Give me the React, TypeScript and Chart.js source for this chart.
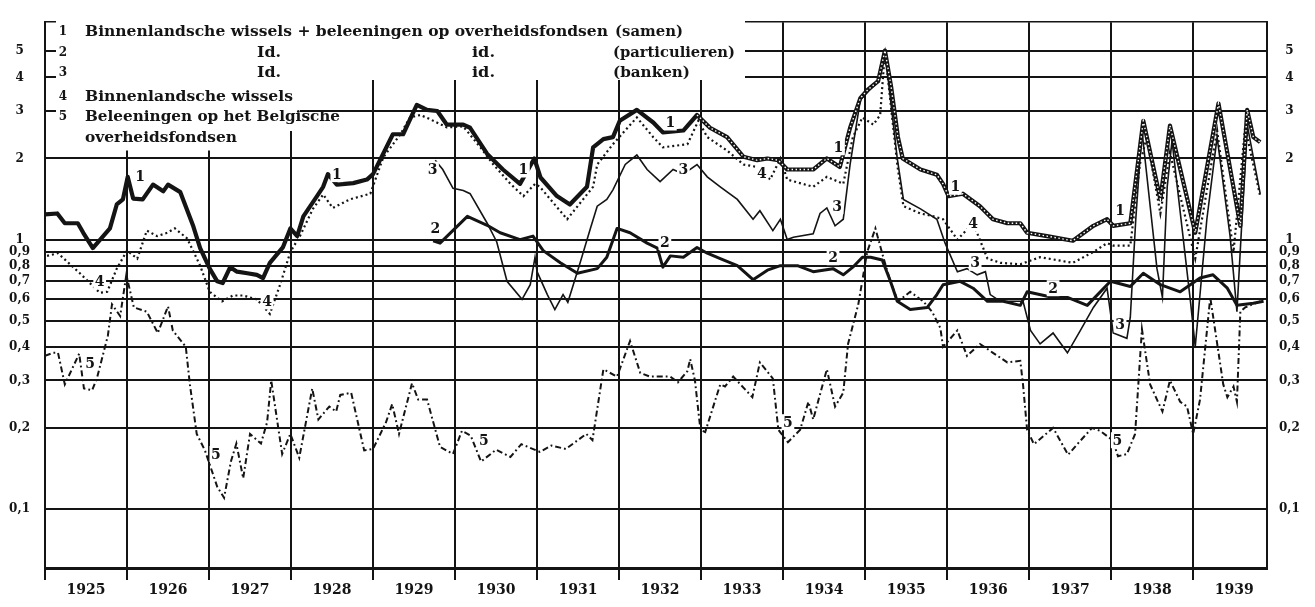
import React, { useEffect, useRef } from "react";
import { Chart, registerables } from "chart.js";

Chart.register(...registerables);

const W = 1315;
const H = 607;
const INK = "#141414";
const SERIF = '"DejaVu Serif", "Liberation Serif", serif';

// x = months since start of 1925, y = value (log scale)
const years = [1925, 1926, 1927, 1928, 1929, 1930, 1931, 1932, 1933, 1934, 1935, 1936, 1937, 1938, 1939];
const yTicks = [0.1, 0.2, 0.3, 0.4, 0.5, 0.6, 0.7, 0.8, 0.9, 1, 2, 3, 4, 5];

// 1: Binnenlandsche wissels + beleeningen (samen)
const seriesSamen: [number, number][] = [
  [0, 1.24], [1.8, 1.25], [2.9, 1.15], [4.8, 1.15], [5.6, 1.06], [7.0, 0.93], [9.5, 1.1], [10.5, 1.35], [11.4, 1.41], [12.1, 1.71],
  [12.9, 1.42], [14.3, 1.41], [15.8, 1.6], [17.3, 1.51], [18.0, 1.6], [19.8, 1.5], [21.7, 1.12], [22.7, 0.93], [24.1, 0.78], [25.2, 0.7],
  [26.0, 0.69], [27.1, 0.79], [28.1, 0.76], [29.6, 0.75], [31.0, 0.74], [31.9, 0.72], [32.9, 0.82], [34.8, 0.935], [35.9, 1.1], [36.9, 1.03],
  [37.8, 1.22], [39.8, 1.45], [40.7, 1.57], [41.4, 1.75], [42.7, 1.6], [45.1, 1.62], [47.1, 1.67], [48.0, 1.75], [50.9, 2.46], [52.4, 2.46],
  [54.4, 3.16], [55.9, 3.03], [57.4, 3.0], [58.8, 2.67], [61.2, 2.67], [62.2, 2.6], [64.7, 2.08], [67.0, 1.82], [69.5, 1.61], [71.6, 2.0],
  [72.5, 1.7], [74.9, 1.45], [76.8, 1.35], [79.3, 1.57], [80.2, 2.2], [81.7, 2.36], [83.1, 2.4], [84.1, 2.76], [86.6, 3.03], [89.0, 2.72],
  [90.4, 2.5], [93.4, 2.54], [95.4, 2.9], [97.3, 2.6], [99.8, 2.4], [102.2, 2.03], [104.2, 1.97], [105.7, 2.0], [107.3, 1.97], [108.6, 1.82],
  [112.4, 1.82], [114.4, 2.0], [116.3, 1.86], [117.8, 2.6], [119.3, 3.35], [120.4, 3.6], [121.9, 3.87], [122.9, 5.03], [123.8, 3.7], [124.8, 2.4],
  [125.5, 2.0], [126.2, 1.95], [128.1, 1.82], [130.5, 1.74], [131.4, 1.61], [132.2, 1.45], [134.3, 1.48], [136.8, 1.33], [138.7, 1.19], [140.8, 1.15],
  [142.7, 1.15], [143.7, 1.06], [146.6, 1.03], [150.4, 0.99], [153.4, 1.125], [155.4, 1.19], [156.3, 1.125], [158.8, 1.15], [160.7, 2.76], [163.2, 1.41],
  [164.6, 2.65], [168.3, 1.06], [171.7, 3.2], [174.9, 1.125], [175.9, 3.03], [176.8, 2.4], [177.8, 2.3],
];

// 2: id. (particulieren)
const seriesParticulieren: [number, number][] = [
  [56.8, 0.99], [57.8, 0.97], [61.8, 1.22], [64.7, 1.13], [66.6, 1.06], [69.5, 1.0], [71.4, 1.03], [72.9, 0.91], [75.4, 0.82], [77.9, 0.75],
  [80.8, 0.78], [82.2, 0.86], [83.7, 1.1], [85.6, 1.06], [88.1, 0.97], [89.6, 0.93], [90.4, 0.79], [91.5, 0.87], [93.4, 0.86], [95.4, 0.935],
  [96.9, 0.89], [98.8, 0.85], [101.3, 0.8], [103.6, 0.71], [105.7, 0.77], [107.6, 0.8], [110.1, 0.8], [112.4, 0.76], [115.3, 0.78], [116.8, 0.74],
  [118.2, 0.79], [119.6, 0.86], [120.8, 0.86], [122.5, 0.84], [123.7, 0.7], [124.7, 0.59], [126.6, 0.55], [129.1, 0.56], [130.5, 0.625], [131.4, 0.68],
  [133.9, 0.7], [135.8, 0.66], [137.9, 0.59], [140.2, 0.59], [142.7, 0.57], [143.7, 0.64], [147.5, 0.61], [149.6, 0.61], [152.5, 0.57], [155.9, 0.7],
  [158.8, 0.67], [160.7, 0.75], [163.2, 0.68], [166.1, 0.64], [169.0, 0.72], [170.9, 0.74], [173.0, 0.66], [174.4, 0.57], [176.8, 0.58], [178.3, 0.59],
];

// 3: id. (banken)
const seriesBanken: [number, number][] = [
  [57.1, 1.97], [58.2, 1.82], [59.7, 1.55], [61.2, 1.52], [62.2, 1.48], [64.7, 1.15], [66.1, 0.98], [67.6, 0.7], [69.8, 0.6], [71.0, 0.68],
  [71.7, 0.86], [72.0, 0.76], [73.5, 0.625], [74.6, 0.55], [75.8, 0.625], [76.5, 0.585], [77.3, 0.68], [78.3, 0.82], [79.8, 1.1], [80.8, 1.33],
  [82.2, 1.41], [83.1, 1.53], [84.9, 1.9], [86.6, 2.06], [88.1, 1.82], [90.0, 1.64], [91.9, 1.82], [93.4, 1.75], [95.4, 1.9], [96.9, 1.71],
  [98.8, 1.57], [101.3, 1.41], [103.6, 1.19], [104.6, 1.28], [106.5, 1.08], [107.6, 1.19], [108.6, 1.0], [109.5, 1.02], [112.4, 1.05], [113.4, 1.25],
  [114.4, 1.31], [115.6, 1.125], [116.8, 1.19], [117.8, 1.9], [119.3, 3.3], [120.7, 3.6], [121.9, 3.87], [122.9, 5.0], [124.7, 2.0], [125.6, 1.41],
  [128.1, 1.3], [130.5, 1.19], [131.7, 0.97], [133.5, 0.76], [134.9, 0.78], [136.4, 0.74], [137.6, 0.76], [138.3, 0.625], [139.8, 0.59], [143.1, 0.59],
  [144.2, 0.46], [145.6, 0.41], [147.5, 0.45], [149.6, 0.38], [151.5, 0.46], [153.4, 0.56], [155.4, 0.66], [156.3, 0.45], [158.3, 0.43], [158.8, 0.515],
  [159.6, 1.19], [160.5, 2.54], [162.7, 0.78], [163.5, 0.61], [164.2, 1.57], [164.9, 2.33], [167.6, 0.59], [168.3, 0.4], [170.0, 1.19], [171.5, 2.4],
  [173.4, 1.03], [174.4, 0.54], [175.9, 2.67], [177.8, 1.48],
];

// 4: Binnenlandsche wissels
const seriesWissels: [number, number][] = [
  [0.3, 0.87], [1.9, 0.89], [5.1, 0.75], [8.0, 0.635], [9.1, 0.64], [10.5, 0.78], [12.0, 0.91], [13.5, 0.85], [14.9, 1.08], [16.4, 1.03],
  [17.9, 1.06], [19.0, 1.1], [20.8, 1.01], [22.7, 0.8], [24.1, 0.64], [25.9, 0.59], [27.5, 0.62], [29.0, 0.62], [31.0, 0.6], [32.9, 0.53],
  [34.4, 0.68], [35.9, 0.9], [37.3, 1.03], [39.2, 1.3], [40.7, 1.47], [42.1, 1.31], [44.6, 1.41], [47.6, 1.48], [49.5, 2.02], [52.0, 2.46],
  [53.4, 2.84], [54.9, 2.9], [56.3, 2.8], [58.8, 2.61], [61.2, 2.63], [63.7, 2.2], [65.6, 1.9], [68.1, 1.61], [70.0, 1.45], [71.7, 1.61],
  [72.4, 1.57], [76.4, 1.19], [80.2, 1.57], [80.8, 1.9], [83.1, 2.26], [86.6, 2.84], [89.0, 2.4], [90.4, 2.2], [94.0, 2.26], [95.6, 2.76],
  [96.9, 2.4], [99.8, 2.14], [102.2, 1.9], [104.2, 1.86], [106.1, 1.67], [107.6, 2.0], [108.6, 1.67], [112.4, 1.57], [114.4, 1.71], [116.8, 1.61],
  [118.2, 2.4], [119.6, 2.84], [121.2, 2.67], [122.2, 2.9], [122.9, 5.0], [124.7, 1.9], [125.6, 1.33], [128.1, 1.25], [130.0, 1.22], [131.4, 1.19],
  [133.5, 1.0], [135.8, 1.15], [137.9, 0.85], [139.8, 0.82], [142.7, 0.81], [145.6, 0.86], [150.4, 0.82], [153.4, 0.9], [155.4, 0.97], [156.3, 0.95],
  [158.8, 0.95], [160.2, 1.9], [161.2, 2.4], [163.2, 1.25], [164.6, 2.1], [168.3, 0.85], [171.5, 2.54], [173.9, 0.9], [175.6, 2.61], [177.8, 1.45],
];

// 5: Beleeningen op het Belgische overheidsfondsen
const seriesFondsen: [number, number][] = [
  [0, 0.37], [1.2, 0.38], [1.9, 0.38], [2.9, 0.29], [5.0, 0.377], [5.7, 0.28], [6.9, 0.276], [7.6, 0.306], [9.2, 0.44], [9.8, 0.575],
  [11.0, 0.52], [11.9, 0.74], [13.0, 0.56], [14.9, 0.54], [16.5, 0.45], [18.0, 0.565], [18.7, 0.46], [20.6, 0.4], [21.2, 0.29], [22.2, 0.19],
  [23.4, 0.165], [25.2, 0.121], [26.2, 0.11], [27.2, 0.15], [28.0, 0.175], [29.0, 0.13], [30.0, 0.19], [31.6, 0.175], [32.5, 0.21], [33.1, 0.3],
  [34.7, 0.16], [35.9, 0.19], [37.2, 0.155], [39.1, 0.28], [40.0, 0.215], [41.6, 0.24], [42.6, 0.23], [43.2, 0.265], [44.8, 0.27], [46.7, 0.165],
  [48.0, 0.167], [49.9, 0.21], [50.8, 0.245], [51.8, 0.19], [53.7, 0.293], [54.6, 0.255], [55.9, 0.255], [57.8, 0.17], [59.7, 0.16], [61.0, 0.195],
  [62.3, 0.187], [63.8, 0.15], [66.0, 0.166], [68.1, 0.156], [69.7, 0.174], [72.4, 0.163], [74.1, 0.172], [76.2, 0.167], [79.2, 0.19], [80.1, 0.18],
  [81.7, 0.33], [83.7, 0.31], [85.6, 0.42], [87.1, 0.32], [88.5, 0.31], [91.5, 0.31], [92.6, 0.295], [94.0, 0.325], [94.4, 0.36], [95.1, 0.3],
  [95.9, 0.197], [96.6, 0.193], [98.8, 0.29], [99.5, 0.285], [100.7, 0.31], [103.5, 0.26], [104.6, 0.35], [106.5, 0.305], [107.3, 0.197], [108.7, 0.177],
  [110.5, 0.197], [111.7, 0.25], [112.4, 0.215], [114.4, 0.33], [115.6, 0.24], [116.8, 0.27], [117.5, 0.41], [119.0, 0.575], [120.3, 0.9], [121.5, 1.1],
  [122.6, 0.87], [123.7, 0.7], [124.8, 0.59], [126.6, 0.64], [128.5, 0.59], [129.8, 0.54], [131.0, 0.47], [131.4, 0.4], [133.5, 0.46], [134.9, 0.37],
  [136.8, 0.41], [138.7, 0.38], [140.8, 0.35], [142.7, 0.355], [143.1, 0.29], [143.7, 0.197], [144.7, 0.174], [147.5, 0.2], [149.7, 0.159], [151.3, 0.177],
  [153.2, 0.2], [154.4, 0.195], [156.2, 0.18], [157.0, 0.157], [158.3, 0.16], [159.5, 0.19], [160.5, 0.465], [161.7, 0.29], [163.5, 0.23], [164.6, 0.3],
  [166.1, 0.25], [167.1, 0.24], [168.0, 0.19], [169.0, 0.255], [170.5, 0.61], [172.4, 0.29], [173.0, 0.26], [173.9, 0.285], [174.4, 0.25], [174.9, 0.54],
  [175.6, 0.56], [177.8, 0.59],
];

// number labels written along the curves: [text, month, value]
const curveLabels: [string, number, number][] = [
  ["1", 13.9, 1.71], ["1", 42.7, 1.75], ["1", 70.0, 1.82], ["1", 91.5, 2.72], ["1", 116.1, 2.2], ["1", 133.2, 1.57], ["1", 157.3, 1.28],
  ["2", 57.1, 1.1], ["2", 90.7, 0.98], ["2", 115.3, 0.86], ["2", 147.5, 0.66],
  ["3", 56.7, 1.82], ["3", 93.4, 1.82], ["3", 115.9, 1.33], ["3", 136.1, 0.82], ["3", 157.3, 0.485],
  ["4", 8.0, 0.7], ["4", 32.5, 0.59], ["4", 104.9, 1.76], ["4", 135.8, 1.15],
  ["5", 6.6, 0.347], ["5", 25.0, 0.16], ["5", 64.2, 0.18], ["5", 108.7, 0.21], ["5", 156.9, 0.18],
];

const legendNumbers = ["1", "2", "3", "4", "5"];
const legendTexts = {
  samen: "Binnenlandsche wissels + beleeningen op overheidsfondsen",
  samenTag: "(samen)",
  id1: "Id.",
  id2: "id.",
  part: "(particulieren)",
  bank: "(banken)",
  wissels: "Binnenlandsche wissels",
  fonds1: "Beleeningen op het Belgische",
  fonds2: "overheidsfondsen",
};

const X_MAX = 178.8;
const Y_MIN = 0.0604;
const Y_MAX = 6.41;

const toXY = (arr: [number, number][]) => arr.map(([x, y]) => ({ x, y }));
const fmtY = (v: number) => (v >= 1 ? String(v) : "0," + Math.round(v * 10));

function drawFit(ctx: CanvasRenderingContext2D, text: string, x: number, y: number, w: number) {
  const m = ctx.measureText(text).width || 1;
  ctx.save();
  ctx.translate(x, y);
  ctx.scale(w / m, 1);
  ctx.fillText(text, 0, 0);
  ctx.restore();
}

const legendPlugin = {
  id: "legendBox",
  beforeDatasetsDraw(chart: any) {
    const ctx: CanvasRenderingContext2D = chart.ctx;
    ctx.save();
    ctx.fillStyle = "#ffffff";
    const rects = [
      [56, 14.5, 745, 80],
      [56, 80, 350, 105],
      [56, 105, 300, 131],
      [56, 131, 289, 150.5],
    ];
    rects.forEach(([x0, y0, x1, y1]) => ctx.fillRect(x0, y0, x1 - x0, y1 - y0));
    ctx.fillStyle = INK;
    ctx.textBaseline = "middle";
    ctx.textAlign = "center";
    ctx.font = `bold 12px ${SERIF}`;
    const rowY = [32, 53, 73, 97, 117];
    legendNumbers.forEach((n, i) => ctx.fillText(n, 63, rowY[i]));
    ctx.textAlign = "left";
    ctx.font = `bold 15px ${SERIF}`;
    const T = legendTexts;
    drawFit(ctx, T.samen, 85, 32, 523);
    drawFit(ctx, T.samenTag, 615, 32, 68);
    drawFit(ctx, T.id1, 257, 53, 24);
    drawFit(ctx, T.id2, 472, 53, 23);
    drawFit(ctx, T.part, 613, 53, 122);
    drawFit(ctx, T.id1, 257, 73, 24);
    drawFit(ctx, T.id2, 472, 73, 23);
    drawFit(ctx, T.bank, 613, 73, 77);
    drawFit(ctx, T.wissels, 85, 97, 208);
    drawFit(ctx, T.fonds1, 85, 117, 255);
    drawFit(ctx, T.fonds2, 85, 138, 152);
    ctx.restore();
  },
  afterDatasetsDraw(chart: any) {
    const ctx: CanvasRenderingContext2D = chart.ctx;
    const xs = chart.scales.x;
    const ys = chart.scales.y;
    ctx.save();
    ctx.font = `bold 14px ${SERIF}`;
    ctx.textAlign = "center";
    ctx.textBaseline = "middle";
    curveLabels.forEach(([t, m, v]) => {
      const px = xs.getPixelForValue(m);
      const py = ys.getPixelForValue(v);
      const w = ctx.measureText(t).width;
      ctx.fillStyle = "#ffffff";
      ctx.fillRect(px - w / 2 - 1.5, py - 8, w + 3, 16);
      ctx.fillStyle = INK;
      ctx.fillText(t, px, py + 1);
    });
    ctx.restore();
  },
};

export default function App() {
  const ref = useRef<HTMLCanvasElement>(null);

  useEffect(() => {
    if (!ref.current) return;
    const tickFont = { family: SERIF, size: 12, weight: "bold" as const };
    const yAxisBase = {
      type: "logarithmic" as const,
      min: Y_MIN,
      max: Y_MAX,
      afterBuildTicks: (s: any) => {
        s.ticks = yTicks.map((v) => ({ value: v }));
      },
      ticks: {
        callback: (v: any) => fmtY(Number(v)),
        autoSkip: false,
        crossAlign: "center" as const,
        font: tickFont,
        color: INK,
      },
    };
    const chart = new Chart(ref.current, {
      type: "line",
      data: {
        datasets: [
          {
            label: "samen (overlay)",
            data: toXY(seriesSamen.filter((p) => p[0] >= 95)),
            borderColor: "#ffffff",
            borderWidth: 1.4,
            borderDash: [1.5, 2.5],
            pointRadius: 0,
            tension: 0,
          },
          {
            label: "Binnenlandsche wissels + beleeningen op overheidsfondsen (samen)",
            data: toXY(seriesSamen),
            borderColor: INK,
            borderWidth: 4.2,
            borderJoinStyle: "round",
            pointRadius: 0,
            tension: 0,
          },
          {
            label: "Binnenlandsche wissels",
            data: toXY(seriesWissels),
            borderColor: INK,
            borderWidth: 2.2,
            borderDash: [2, 3],
            pointRadius: 0,
            tension: 0,
          },
          {
            label: "id. (particulieren)",
            data: toXY(seriesParticulieren),
            borderColor: INK,
            borderWidth: 3,
            borderJoinStyle: "round",
            pointRadius: 0,
            tension: 0,
          },
          {
            label: "id. (banken)",
            data: toXY(seriesBanken),
            borderColor: INK,
            borderWidth: 1.6,
            pointRadius: 0,
            tension: 0,
          },
          {
            label: "Beleeningen op het Belgische overheidsfondsen",
            data: toXY(seriesFondsen),
            borderColor: INK,
            borderWidth: 2,
            borderDash: [6, 3, 1.8, 3],
            pointRadius: 0,
            tension: 0,
          },
        ],
      },
      options: {
        responsive: false,
        animation: false,
        layout: { padding: 0 },
        plugins: { legend: { display: false }, tooltip: { enabled: false } },
        scales: {
          x: {
            type: "linear",
            position: "bottom",
            min: 0,
            max: X_MAX,
            afterFit: (s: any) => {
              s.height = H - 568;
            },
            afterBuildTicks: (s: any) => {
              s.ticks = years.map((_, i) => ({ value: i * 12 }));
            },
            ticks: {
              callback: (v: any) => String(1925 + Math.round(Number(v) / 12)),
              labelOffset: 41,
              autoSkip: false,
              maxRotation: 0,
              padding: 2,
              font: { family: SERIF, size: 14, weight: "bold" },
              color: INK,
            },
            grid: { color: INK, lineWidth: 2, drawTicks: true, tickLength: 12, tickWidth: 2, tickColor: INK },
            border: { color: INK, width: 3 },
          },
          xTop: {
            type: "linear",
            position: "top",
            min: 0,
            max: X_MAX,
            afterFit: (s: any) => {
              s.height = 13;
            },
            ticks: { display: false },
            grid: { display: false, drawTicks: false },
            border: { color: INK, width: 1.5 },
          },
          y: {
            ...yAxisBase,
            position: "left",
            afterFit: (s: any) => {
              s.width = 45;
            },
            ticks: { ...yAxisBase.ticks, padding: 15 },
            grid: { color: INK, lineWidth: 2, drawTicks: false },
            border: { color: INK, width: 2 },
          },
          yRight: {
            ...yAxisBase,
            position: "right",
            afterFit: (s: any) => {
              s.width = W - 1267;
            },
            ticks: { ...yAxisBase.ticks, padding: 12 },
            grid: { display: false, drawTicks: false },
            border: { color: INK, width: 2 },
          },
        } as any,
      },
      plugins: [legendPlugin],
    } as any);
    return () => chart.destroy();
  }, []);

  return (
    <div style={{ position: "fixed", left: 0, top: 0, width: W, height: H, background: "#ffffff" }}>
      <canvas ref={ref} width={W} height={H} style={{ width: W, height: H, display: "block" }} />
    </div>
  );
}
